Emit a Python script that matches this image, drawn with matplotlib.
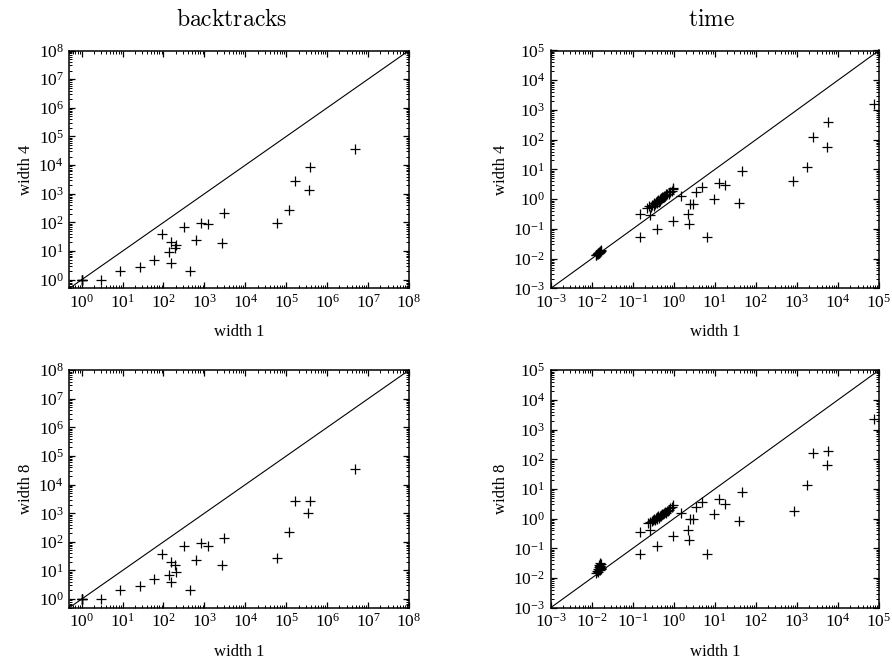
import matplotlib
matplotlib.use("Agg")
import matplotlib.pyplot as plt
from matplotlib.ticker import LogLocator, FuncFormatter, NullFormatter
import numpy as np

plt.rcParams['font.family'] = ['Liberation Serif', 'DejaVu Serif']
plt.rcParams['mathtext.fontset'] = 'custom'
plt.rcParams['mathtext.rm'] = 'Liberation Serif'
plt.rcParams['mathtext.it'] = 'Liberation Serif:italic'

# ---------------- data ----------------
# backtracks: width 1 vs width 4
bt_w1_a = [1, 1, 1, 1, 3, 8.8, 26, 60, 93, 138, 155, 155, 190, 197, 318, 437, 611, 846,
           1240, 2650, 2950, 58000, 116000, 160000, 356000, 373000, 4.8e6]
bt_w4 = [1, 1, 1, 1, 1, 2, 2.8, 5, 39, 9, 3.9, 20, 12.7, 16, 72, 2, 25, 97,
         88, 19, 212, 97, 270, 2760, 1380, 8950, 36000]
# backtracks: width 1 vs width 8
bt_w1_b = [1, 1, 1, 1, 3, 8.8, 26, 60, 93, 138, 155, 155, 190, 197, 318, 437, 611, 846,
           1240, 2650, 2950, 58000, 116000, 160000, 340000, 373000, 4.8e6]
bt_w8 = [1, 1, 1, 1, 1, 2, 2.9, 5, 37, 7.1, 4, 19.6, 15.8, 9.2, 72, 2, 24, 88,
         69, 15, 134, 28, 222, 2760, 1000, 2760, 34000]

# time: width 1 vs width 4
t_w1_a = [0.0125, 0.013, 0.0135, 0.014, 0.0142, 0.0145, 0.0148, 0.015, 0.0152, 0.0155,
          0.0158, 0.016, 0.0165, 0.0172,
          0.22, 0.25, 0.28, 0.30, 0.32, 0.33, 0.35, 0.36, 0.38, 0.40, 0.41, 0.43, 0.45,
          0.46, 0.48, 0.50, 0.52, 0.55, 0.57, 0.60, 0.63, 0.66, 0.70, 0.75, 0.80, 0.88, 0.95,
          0.15, 0.15, 0.26, 0.40, 0.98, 1.5, 0.98, 2.2, 2.4, 2.5, 2.9, 3.4, 4.8, 6.6, 9.8,
          12.3, 18, 39, 45, 820, 1790, 2400, 5300, 5600, 76000]
t_w4 = [0.0130, 0.0138, 0.0142, 0.0140, 0.0150, 0.0155, 0.0152, 0.0160, 0.0165, 0.0162,
        0.0170, 0.0175, 0.0182, 0.0195,
        0.50, 0.58, 0.55, 0.62, 0.58, 0.72, 0.68, 0.80, 0.75, 0.85, 0.95, 0.82, 1.00,
        0.90, 1.10, 1.05, 1.20, 1.15, 1.30, 1.25, 1.45, 1.35, 1.55, 1.50, 1.70, 1.90, 2.25,
        0.33, 0.054, 0.30, 0.096, 0.19, 1.3, 2.3, 0.33, 0.15, 0.71, 0.71, 1.75, 2.6, 0.054, 1.0,
        3.5, 3.1, 0.74, 8.7, 4.1, 12, 123, 56, 390, 1620]

# time: width 1 vs width 8
t_w1_b = [0.0130, 0.0135, 0.0140, 0.0145, 0.0148, 0.0150, 0.0152, 0.0155, 0.0158, 0.0160,
          0.0162, 0.0165, 0.0168, 0.0170, 0.0155, 0.0160,
          0.24, 0.27, 0.29, 0.31, 0.33, 0.35, 0.36, 0.38, 0.40, 0.42, 0.44, 0.46, 0.48,
          0.50, 0.53, 0.55, 0.58, 0.61, 0.64, 0.68, 0.72, 0.76, 0.82, 0.88, 0.95,
          0.15, 0.15, 0.27, 0.40, 0.98, 1.5, 2.2, 2.4, 2.5, 2.9, 3.4, 4.8, 6.6, 9.8,
          12.3, 18, 39, 45, 850, 1790, 2400, 5300, 5600, 76000]
t_w8 = [0.015, 0.017, 0.020, 0.016, 0.024, 0.019, 0.028, 0.021, 0.032, 0.018,
        0.025, 0.022, 0.030, 0.020, 0.026, 0.023,
        0.70, 0.80, 0.85, 0.90, 0.95, 0.88, 1.05, 1.00, 1.10, 1.20, 1.05, 1.25, 1.35,
        1.20, 1.45, 1.40, 1.55, 1.65, 1.50, 1.80, 1.75, 2.00, 2.20, 2.40, 2.80,
        0.36, 0.063, 0.43, 0.12, 0.26, 1.6, 0.41, 0.19, 0.94, 0.94, 2.4, 3.7, 0.063, 1.43,
        4.5, 3.2, 0.85, 8.1, 1.8, 13.4, 166, 63, 185, 2190]

col_titles = ["backtracks", "time"]
xlabel_text = "width 1"
ylabels = ["width 4", "width 8"]
bt_lim = (0.5, 1e8)
t_lim = (1e-3, 1e5)

# ---------------- figure ----------------
fig = plt.figure(figsize=(8.92, 6.6), dpi=100)

L1, R1 = 69.3 / 892, 409 / 892
L2, R2 = 550.7 / 892, 879 / 892
T1, B1 = 1 - 50.5 / 660, 1 - 288.4 / 660
T2, B2 = 1 - 370.2 / 660, 1 - 607.7 / 660

axes = [
    fig.add_axes([L1, B1, R1 - L1, T1 - B1]),
    fig.add_axes([L2, B1, R2 - L2, T1 - B1]),
    fig.add_axes([L1, B2, R1 - L1, T2 - B2]),
    fig.add_axes([L2, B2, R2 - L2, T2 - B2]),
]

panels = [
    (bt_w1_a, bt_w4, bt_lim, ylabels[0]),
    (t_w1_a, t_w4, t_lim, ylabels[0]),
    (bt_w1_b, bt_w8, bt_lim, ylabels[1]),
    (t_w1_b, t_w8, t_lim, ylabels[1]),
]

fmt = FuncFormatter(lambda v, p: r'$10^{%d}$' % int(round(np.log10(v))))

for ax, (xs, ys, lim, ylab) in zip(axes, panels):
    ax.set_xscale('log')
    ax.set_yscale('log')
    ax.set_xlim(*lim)
    ax.set_ylim(*lim)
    ax.plot(lim, lim, color='black', lw=0.8)
    ax.plot(xs, ys, linestyle='none', marker='+', markersize=6.5,
            markeredgewidth=0.9, color='black')
    for axis in (ax.xaxis, ax.yaxis):
        axis.set_major_locator(LogLocator(base=10, numticks=20))
        axis.set_minor_locator(LogLocator(base=10, subs=np.arange(2, 10), numticks=20))
        axis.set_major_formatter(fmt)
        axis.set_minor_formatter(NullFormatter())
    ax.tick_params(which='both', direction='in', top=True, right=True,
                   labelsize=12.5, colors='black')
    ax.tick_params(which='major', length=4.0, width=0.9, pad=4)
    ax.tick_params(which='minor', length=2.0, width=0.7)
    for s in ax.spines.values():
        s.set_linewidth(1.1)
    ax.set_xlabel(xlabel_text, fontsize=12, labelpad=9)
    ax.set_ylabel(ylab, fontsize=12, labelpad=3)

fig.text(232 / 892, 1 - 20 / 660, r'$\mathrm{' + col_titles[0] + '}$',
         ha='center', va='center', fontsize=17, math_fontfamily='cm')
fig.text(712 / 892, 1 - 20 / 660, r'$\mathrm{' + col_titles[1] + '}$',
         ha='center', va='center', fontsize=17, math_fontfamily='cm')

fig.savefig('out.png', dpi=100)
